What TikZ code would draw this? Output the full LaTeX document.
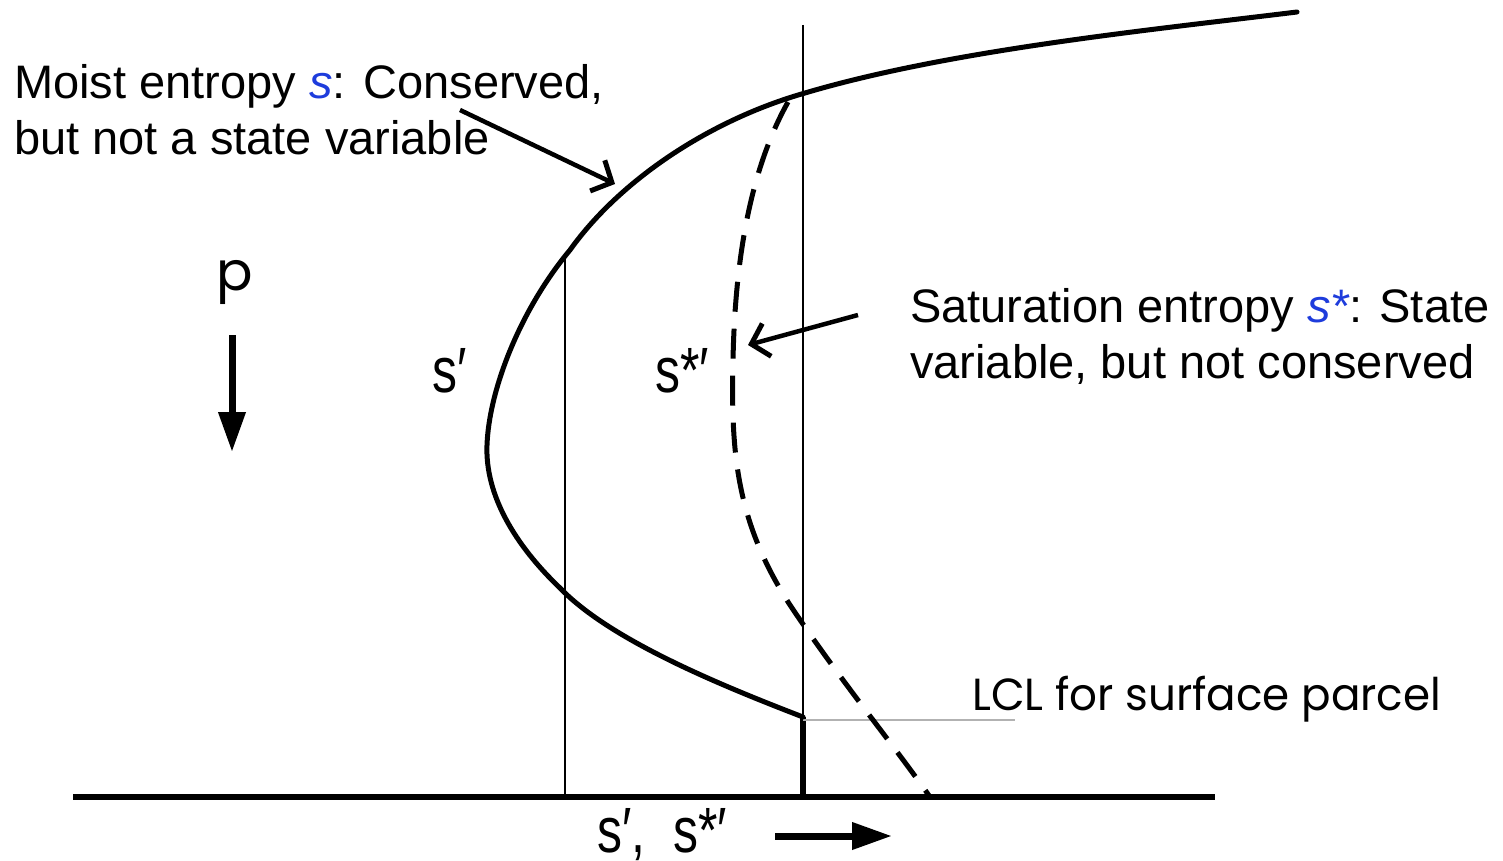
\documentclass[tikz,border=0pt]{standalone}
\usepackage{fontspec}
\setmainfont{Liberation Sans}
\newfontfamily\geofont{Poppins}
\usetikzlibrary{arrows.meta}
\definecolor{sblue}{RGB}{30,60,220}
\tikzset{
  curve/.style={line width=5pt, line cap=round},
  thin/.style={line width=2pt},
  annot/.style={font=\fontsize{47}{56}\selectfont, anchor=base west, inner sep=0pt, align=left},
  lbl/.style={font=\fontsize{64}{64}\selectfont, inner sep=0pt, xscale=0.78},
  pointer/.style={line width=4.5pt, -{Straight Barb[length=16pt,width=34pt,line width=5pt]}},
  bigarrow/.style={line width=7pt, -{Triangle[length=40pt,width=26pt]}},
}
\begin{document}
\begin{tikzpicture}[x=1pt,y=-1pt]
\useasboundingbox (0,0) rectangle (1503,861);
% coordinates
\coordinate (lcl) at (803,717);
\coordinate (gl) at (73,797);
\coordinate (gr) at (1215,797);
\coordinate (vtop) at (803,25);
\coordinate (vbot) at (803,797);
\coordinate (v2top) at (565,255);
\coordinate (v2bot) at (565,797);
% axes
\draw[line width=5.5pt] (gl) -- (gr);
\draw[thin] (vtop) -- (vbot);
\draw[thin] (v2top) -- (v2bot);
\draw[line width=5.5pt] (lcl) -- (vbot);
\draw[line width=1.3pt, gray!60] (803,720) -- (1015,720);
% moist entropy curve
\draw[curve] (lcl) .. controls (720,685) and (610,640) .. (560,588)
  .. controls (515,545) and (485,495) .. (487,445)
  .. controls (489,390) and (520,310) .. (570,250)
  .. controls (620,180) and (710,120) .. (805,93)
  .. controls (950,50) and (1150,30) .. (1297,12);
% saturation entropy curve
\draw[line width=5pt, dash pattern=on 30pt off 17pt] (788,102) .. controls (750,170) and (735,260) .. (733,360)
  .. controls (731,450) and (735,520) .. (790,605)
  .. controls (840,680) and (890,740) .. (930,797);
% pointers
\coordinate (a1s) at (460,110);
\coordinate (a1e) at (615,184);
\draw[pointer] (a1s) -- (a1e);
\coordinate (a2s) at (858,315);
\coordinate (a2e) at (748,345);
\draw[pointer] (a2s) -- (a2e);
% p arrow
\coordinate (ps) at (232,335);
\coordinate (pe) at (232,452);
\draw[bigarrow] (ps) -- (pe);
\coordinate (xs) at (775,836);
\coordinate (xe) at (892,836);
\draw[bigarrow] (xs) -- (xe);
% texts
\node[annot] (t1) at (14,155) {Moist entropy \textcolor{sblue}{\itshape s}: Conserved,\\but not a state variable};
\node[annot] (t2) at (910,378) {Saturation entropy \textcolor{sblue}{\itshape s*}: State\\variable, but not conserved};
\node[font=\geofont\fontsize{54}{54}\selectfont, inner sep=0pt, anchor=base] (p) at (235,290) {p};
\node[lbl, anchor=base] (sp) at (450,392) {s′};
\node[lbl, anchor=base] (ssp) at (682,392) {s*′};
\node[lbl, anchor=base] (axl) at (662,852) {s′,\ \ s*′};
\node[font=\geofont\fontsize{45}{45}\selectfont, inner sep=0pt, anchor=base west, xscale=0.97] (lcltxt) at (972,710) {LCL for surface parcel};
\end{tikzpicture}
\end{document}
